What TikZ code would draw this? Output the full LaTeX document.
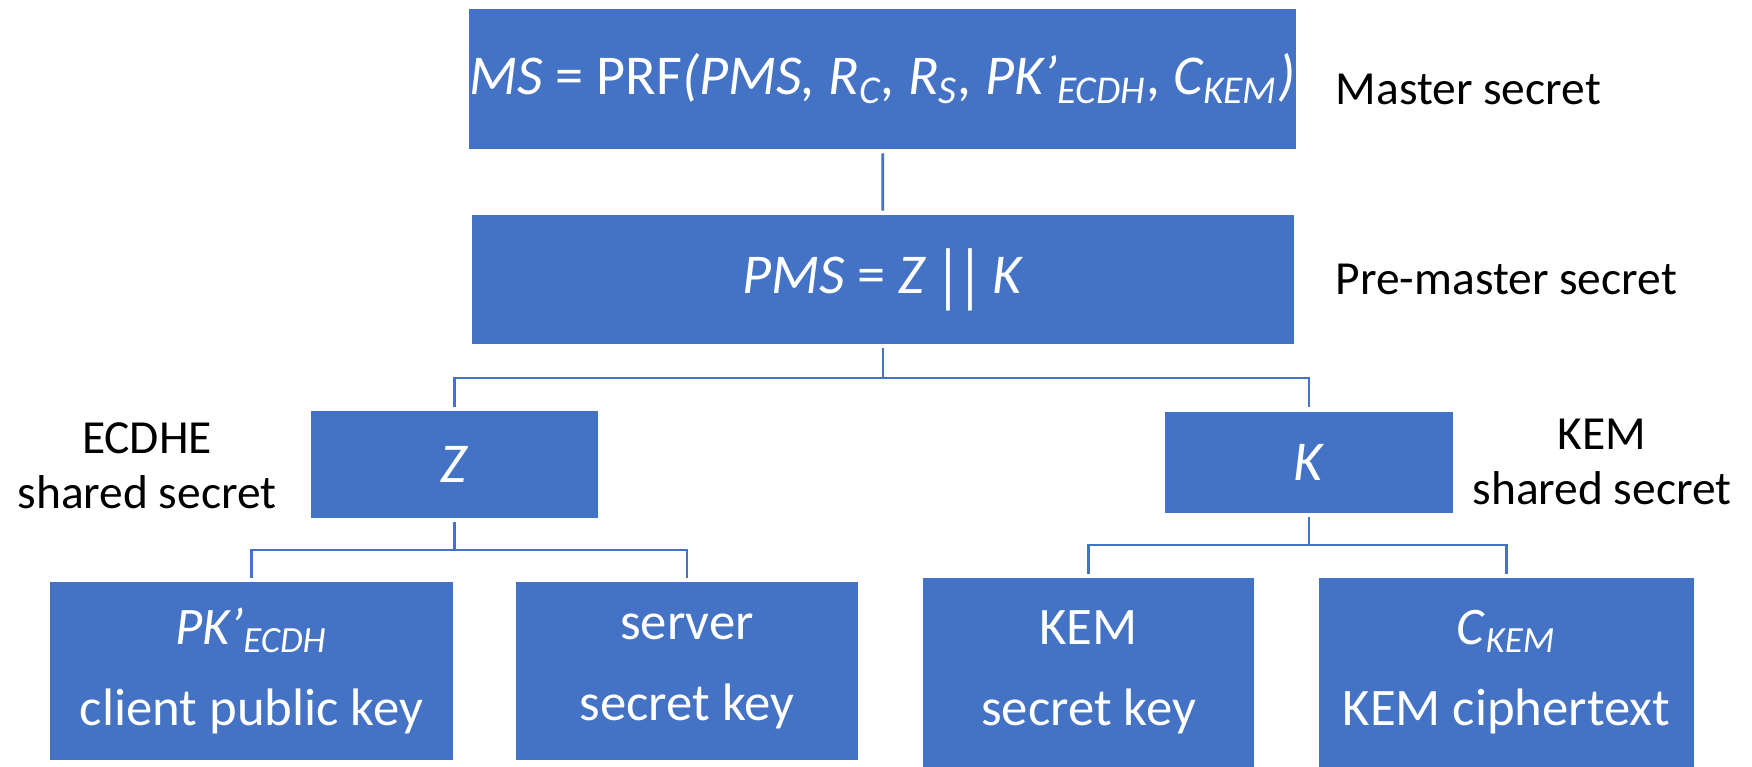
\documentclass[tikz,border=0pt]{standalone}
\usepackage{fontspec}
\setmainfont{Carlito}
\definecolor{officeblue}{HTML}{4472C4}

\begin{document}
\begin{tikzpicture}[x=0.01cm,y=-0.01cm]

      \useasboundingbox (0,0) rectangle (1752,767);

      \begin{scope}[every node/.style={fill=officeblue,draw=white,line width=0.3pt,text=white,align=center,inner sep=0pt,outer sep=1.2pt,font=\fontsize{16}{19}\selectfont}]
        \node[minimum width=8.27cm,minimum height=1.40cm] (ms)  at (882.5,79)  {\textit{MS} = PRF\textit{(PMS, R\textsubscript{C}, R\textsubscript{S}, PK’\textsubscript{ECDH}, C\textsubscript{KEM})}};
        \node[minimum width=8.22cm,minimum height=1.29cm] (pms) at (883,279.5) {\textit{PMS} = \textit{Z}\,\raisebox{-1.5pt}{\scalebox{1}[1.25]{|\kern-1.2pt|}}\,\textit{K}};
        \node[minimum width=2.87cm,minimum height=1.07cm] (z)   at (454.5,464.5) {\textit{Z}};
        \node[minimum width=2.88cm,minimum height=1.02cm] (k)   at (1309,462) {\textit{K}};
        \node[minimum width=4.03cm,minimum height=1.78cm,font=\fontsize{15}{18}\selectfont] (pk)  at (251.5,671) {\textit{PK’}\textsubscript{\textit{ECDH}}\\[5pt]client public key};
        \node[minimum width=3.42cm,minimum height=1.78cm,font=\fontsize{15}{18}\selectfont] (srv) at (687,671) {server\\[5pt]secret key};
        \node[minimum width=3.31cm,minimum height=1.89cm,font=\fontsize{15}{18}\selectfont] (ksk) at (1088.5,672.5) {KEM\\[5pt]secret key};
        \node[minimum width=3.75cm,minimum height=1.89cm,font=\fontsize{15}{18}\selectfont] (ct)  at (1506.5,672.5) {\textit{C}\textsubscript{\textit{KEM}}\\[5pt]KEM ciphertext};
      \end{scope}

      \begin{scope}[every node/.style={align=center,inner sep=0pt,font=\fontsize{13.5}{15.5}\selectfont}]
        \node[anchor=west] (mslbl)  at (1335,89)  {Master secret};
        \node[anchor=west] (pmslbl) at (1335,279) {Pre-master secret};
        \node (zlbl) at (147,466)  {ECDHE\\shared secret};
        \node (klbl) at (1602,462) {KEM\\shared secret};
      \end{scope}

      \coordinate (j1) at (883,378);
      \coordinate (j2) at (454.5,550);
      \coordinate (j3) at (1309,545);

      \begin{scope}[every path/.style={draw=officeblue,line width=0.8pt}]
        \draw (ms) -- (pms);
        \draw (pms) -- (j1) -| (z);
        \draw (j1) -| (k);
        \draw (z) -- (j2) -| (pk);
        \draw (j2) -| (srv);
        \draw (k) -- (j3) -| (ksk);
        \draw (j3) -| (ct);
      \end{scope}

    \end{tikzpicture}
\end{document}
